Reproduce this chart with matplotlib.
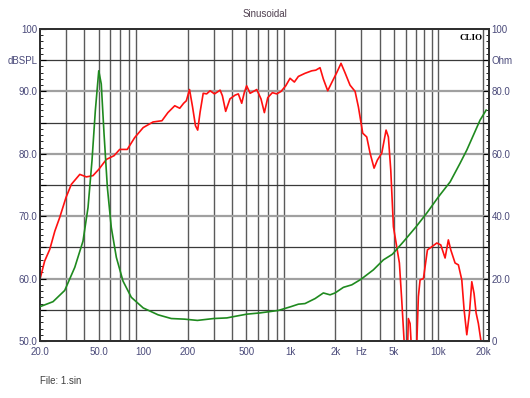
import matplotlib
matplotlib.use("Agg")
import matplotlib.pyplot as plt
from matplotlib.ticker import FixedLocator, NullFormatter

# ---- data ----
spl_freq = [20, 21.5, 23.3, 25.2, 27.2, 30, 32.6, 37.2, 41.2, 45.7, 50, 56.3, 63.5, 69.3, 78, 87.6,
            100, 116.6, 134, 147, 163.6, 176.8, 188, 196, 206, 216, 226, 234, 243, 255, 269, 284,
            304, 332, 344, 362, 387, 419, 441, 465, 484, 502, 530, 588, 628, 662, 698, 750, 803,
            859, 924, 988, 1057, 1125, 1248, 1386, 1475, 1577, 1660, 1778, 1892, 2046, 2188, 2328,
            2518, 2725, 2870, 3070, 3267, 3443, 3664, 3858, 4130, 4418, 4580, 4753, 4955, 5167,
            5438, 5639, 5847, 6000, 6150, 6252, 6425, 6590, 6800, 7050, 7310, 7510, 7910, 8420,
            9010, 9740, 10370, 11090, 11670, 12120, 12960, 13650, 14390, 14920, 15560, 16220,
            16820, 17430, 17990, 18640, 19350, 20000]
spl_db = [59.9, 62.8, 64.7, 67.6, 69.8, 73.0, 75.1, 76.7, 76.3, 76.5, 77.5, 79.1, 79.7, 80.7, 80.7, 82.6,
          84.2, 85.1, 85.3, 86.6, 87.7, 87.3, 88.1, 88.5, 90.3, 87.5, 84.5, 83.8, 86.7, 89.7, 89.6, 90.1,
          89.6, 90.2, 89.3, 86.8, 88.8, 89.4, 89.6, 88.1, 89.8, 90.9, 89.7, 90.3, 88.8, 86.6, 89.0, 89.8, 89.6,
          90.0, 90.9, 92.1, 91.5, 92.4, 92.9, 93.3, 93.4, 93.8, 92.0, 90.1, 91.4, 93.0, 94.5, 93.0,
          91.0, 90.0, 87.5, 83.3, 82.7, 80.1, 77.7, 79.0, 80.1, 83.8, 82.7, 77.4, 68.3, 65.7,
          62.5, 56.6, 50.2, 45.0, 47.0, 53.6, 52.8, 48.0, 44.0, 46.0, 57.1, 59.8, 60.0, 64.6,
          65.1, 65.7, 65.4, 63.3, 66.2, 64.6, 62.5, 62.2, 59.8, 55.0, 51.0, 54.5,
          59.5, 57.6, 54.5, 52.8, 50.2, 46.0]

imp_freq = [20, 24.5, 29.4, 34.4, 39.1, 42.3, 45, 47.4, 50, 52, 54.3, 57.2, 60.8, 65.8, 73, 83.1,
            100, 126, 155, 191, 233, 300, 369, 408, 503, 618, 824, 1000, 1125, 1248, 1460, 1661,
            1844, 1994, 2271, 2588, 2991, 3623, 4237, 4876, 5785, 7050, 8335, 10000, 12000, 14020,
            15560, 17260, 19140, 21050]
imp_ohm = [11.0, 12.6, 16.2, 23.6, 32.0, 42.8, 57.8, 73.8, 86.6, 82.4, 66.4, 49.2, 36.4, 26.8, 19.2, 14.0,
           10.6, 8.4, 7.2, 7.0, 6.6, 7.2, 7.4, 7.8, 8.6, 9.0, 9.8, 11.0, 11.8, 12.0, 13.6, 15.4,
           14.8, 15.4, 17.2, 18.0, 19.8, 22.8, 26.0, 27.8, 31.8, 36.6, 41.0, 46.2, 51.0, 57.0,
           61.2, 66.0, 70.8, 74.0]

x_ticks = [20, 50, 100, 200, 500, 1000, 2000, 3000, 5000, 10000, 20000]
x_labels = ["20.0", "50.0", "100", "200", "500", "1k", "2k", "Hz", "5k", "10k", "20k"]
left_ticks = [50, 55, 60, 65, 70, 75, 80, 85, 90, 95, 100]
left_labels = ["50.0", "", "60.0", "", "70.0", "", "80.0", "", "90.0", "dBSPL", "100"]
right_ticks = [0, 10, 20, 30, 40, 50, 60, 70, 80, 90, 100]
right_labels = ["0", "", "20.0", "", "40.0", "", "60.0", "", "80.0", "Ohm", "100"]

# ---- style ----
plt.rcParams['font.family'] = ['Liberation Sans', 'DejaVu Sans']
lab_col = '#4a4a7a'

fig = plt.figure(figsize=(5.30, 3.98), dpi=100)
ax = fig.add_axes([40/530, 1-341/398, 449/530, 312/398])
ax.set_xscale('log')
ax.set_xlim(20, 22000)
ax.set_ylim(50, 100)

# grid
grid_x = [f * m for m in (10, 100, 1000) for f in range(2, 10)] + [10000, 20000]
for g in grid_x:
    if g > 20:
        ax.axvline(g, color='#5a5a5a', lw=1.0, zorder=1)
for v in left_ticks[1:-1]:
    if v % 10 == 0:
        ax.axhline(v, color='#a0a0a0', lw=1.6, zorder=1)
    else:
        ax.axhline(v, color='#3a3a3a', lw=0.9, zorder=1)

ax.plot(spl_freq, spl_db, color='#ff1010', lw=1.2, zorder=3)

ax2 = ax.twinx()
ax2.set_ylim(0, 100)
ax2.plot(imp_freq, imp_ohm, color='#1f8a1f', lw=1.2, zorder=3)

ax.xaxis.set_major_locator(FixedLocator(x_ticks))
ax.set_xticklabels(x_labels)
ax.xaxis.set_minor_formatter(NullFormatter())
ax.xaxis.set_minor_locator(FixedLocator([]))
ax.tick_params(axis='x', which='both', length=0, labelsize=7, labelcolor=lab_col, pad=4)

ax.yaxis.set_major_locator(FixedLocator(left_ticks))
ax.set_yticklabels(left_labels)
ax.yaxis.set_minor_locator(FixedLocator(list(range(50, 101))))
ax.tick_params(axis='y', which='major', direction='in', length=4, width=0.8,
               labelsize=7, labelcolor=lab_col, pad=2)
ax.tick_params(axis='y', which='minor', direction='in', length=2, width=0.6)

ax2.yaxis.set_major_locator(FixedLocator(right_ticks))
ax2.set_yticklabels(right_labels)
ax2.yaxis.set_minor_locator(FixedLocator(list(range(0, 101, 2))))
ax2.tick_params(axis='y', which='major', direction='in', length=4, width=0.8,
                labelsize=7, labelcolor=lab_col, pad=2)
ax2.tick_params(axis='y', which='minor', direction='in', length=2, width=0.6)

for a in (ax, ax2):
    for s in a.spines.values():
        s.set_color('#303030')
        s.set_linewidth(1.4)

ax.text(0.985, 0.985, "CLIO", transform=ax.transAxes, ha='right', va='top',
        fontsize=6.5, fontweight='bold', family='Liberation Serif', color='black', zorder=5)

fig.text(265/530, 1-14/398, "Sinusoidal", ha='center', va='center', fontsize=7, color='#504050')
fig.text(40/530, 1-381/398, "File: 1.sin", ha='left', va='center', fontsize=7, color='#404040')

fig.savefig("out.png", dpi=100)
